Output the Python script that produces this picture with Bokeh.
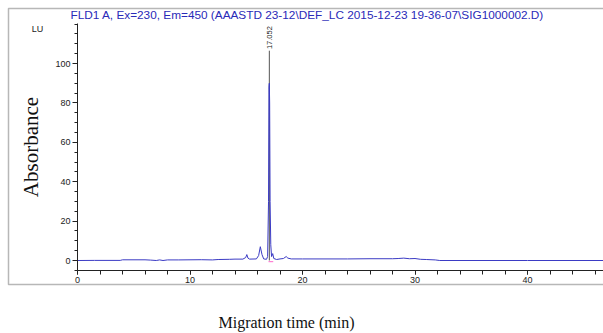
import math
from bokeh.plotting import figure
from bokeh.models import FixedTicker, Label, BoxAnnotation
from bokeh.core.properties import value
from bokeh.embed import file_html
from bokeh.resources import INLINE

# ---- data ----
time_min = [0.0, 1.5, 3.8, 4.0, 6.0, 6.5, 7.0, 7.3, 7.6, 8.0, 9.0, 10.0, 11.0, 12.0,
            12.5, 13.5, 14.0, 14.7, 14.95, 15.05, 15.15, 15.3, 15.9, 16.1, 16.25,
            16.4, 16.55, 16.8, 16.9, 16.98, 17.02, 17.05, 17.08, 17.12, 17.18,
            17.25, 17.35, 17.45, 17.7, 18.0, 18.3, 18.55, 18.7, 19.0, 20.0, 22.0,
            24.0, 26.0, 28.0, 28.5, 29.0, 29.5, 30.0, 30.5, 31.0, 31.8, 32.2, 40.0, 46.75]
signal_lu = [0.0, 0.05, 0.05, 0.35, 0.35, 0.2, 0.0, 0.3, 0.0, 0.3, 0.3, 0.35, 0.4, 0.3,
             0.5, 0.6, 0.7, 0.7, 1.5, 3.0, 1.2, 0.7, 0.8, 2.5, 7.0,
             3.0, 0.8, 0.6, 2.0, 30.0, 88.0, 90.0, 80.0, 30.0, 8.0,
             2.0, 3.5, 1.0, 0.5, 0.8, 1.0, 2.0, 1.2, 0.8, 0.8, 0.8,
             0.8, 0.9, 0.9, 1.0, 1.2, 0.9, 1.0, 0.6, 0.5, 0.3, 0.0, 0.0, 0.0]

peak_rt = [17.052]
peak_label = ["17.052"]
peak_mark_top = [106.5]

x_major = [0, 10, 20, 30, 40]
x_minor = list(range(0, 47, 2))
y_major = [0, 20, 40, 60, 80, 100]
y_minor = list(range(-5, 121, 5))

title_text = "FLD1 A, Ex=230, Em=450 (AAASTD 23-12\\DEF_LC 2015-12-23 19-36-07\\SIG1000002.D)"

# pixel scale of the original: 11.25 px per min (x=0 at 77px), 1.97 px per LU (y=0 at 260px)
W, H = 603, 333
PX_X, X0 = 11.25, 77.0
PX_Y, Y0 = 1.97, 260.0

def dx(px):
    return (px - X0) / PX_X

def dy(py):
    return (Y0 - py) / PX_Y

p = figure(width=W, height=H, output_backend="svg", toolbar_location=None,
           x_range=(dx(0), dx(W)), y_range=(dy(H), dy(0)),
           min_border_left=0, min_border_right=0, min_border_top=0, min_border_bottom=0)
p.outline_line_color = None
p.grid.visible = False
p.background_fill_color = "white"
p.border_fill_color = "white"

for ax in (p.xaxis[0], p.yaxis[0]):
    ax.axis_line_color = "#222222"
    ax.major_tick_line_color = "#222222"
    ax.minor_tick_line_color = "#222222"
    ax.major_label_text_font = "Liberation Sans"
    ax.major_label_text_font_size = "9px"
    ax.major_label_text_color = "#222222"
    ax.major_tick_in = 0
    ax.minor_tick_in = 0
    ax.major_label_standoff = 2

p.xaxis.fixed_location = -5.08
p.xaxis.bounds = (0, 46.75)
p.yaxis.fixed_location = 0
p.yaxis.bounds = (-5, 120.3)

p.xaxis.ticker = FixedTicker(ticks=x_major, minor_ticks=x_minor)
p.yaxis.ticker = FixedTicker(ticks=y_major, minor_ticks=y_minor)
p.xaxis.major_tick_out = 4
p.xaxis.minor_tick_out = 4
p.yaxis.major_tick_out = 5
p.yaxis.minor_tick_out = 3

p.yaxis.axis_label = "Absorbance"
p.yaxis.axis_label_text_font = "Liberation Serif"
p.yaxis.axis_label_text_font_style = "normal"
p.yaxis.axis_label_text_font_size = "21px"
p.yaxis.axis_label_text_color = "#111111"
p.yaxis.axis_label_standoff = 9

# peak marker line, integration baseline and label
p.segment(x0=peak_rt, y0=[0.0], x1=peak_rt, y1=peak_mark_top, line_color="#555555", line_width=1)
p.segment(x0=[16.98], y0=[-0.6], x1=[17.4], y1=[-0.6], line_color="#ff66cc", line_width=1)
p.line(time_min, signal_lu, line_color="#3b3bc4", line_width=1)
p.text(x=peak_rt, y=[v + 0.8 for v in peak_mark_top], text=peak_label, angle=math.pi / 2,
       text_align="left", text_baseline="middle", text_font=value("Liberation Sans"),
       text_font_size="7.5px", text_color="#222222")

# outer frame box
box = BoxAnnotation(left=dx(8), right=dx(W + 20), top=dy(8), bottom=dy(284),
                    fill_alpha=0, line_color="#111111", line_width=1.5)
p.add_layout(box)

p.add_layout(Label(x=dx(70), y=dy(14), text=title_text, text_align="left", text_baseline="middle",
                   text_font="Liberation Sans", text_font_size="11.8px", text_color="#2a2ab8"))
p.add_layout(Label(x=dx(37), y=dy(28), text="LU", text_align="center", text_baseline="middle",
                   text_font="Liberation Sans", text_font_size="9px", text_color="#222222"))
p.add_layout(Label(x=dx(286), y=dy(322), text="Migration time (min)", text_align="center",
                   text_baseline="middle", text_font="Liberation Serif", text_font_size="16px",
                   text_color="#111111"))

open("out.html", "w").write(file_html(p, INLINE))
